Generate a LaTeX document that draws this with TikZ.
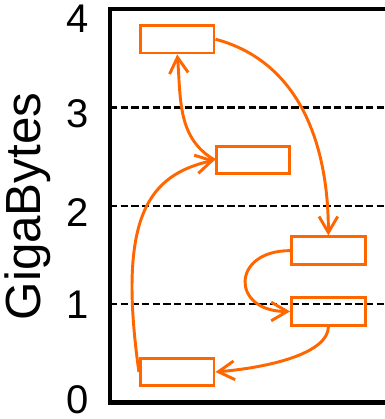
\documentclass[tikz,border=0pt]{standalone}
\usepackage{fontspec}
\setmainfont{Liberation Sans}
\usetikzlibrary{arrows.meta}

\definecolor{migorange}{RGB}{255,102,0}

\begin{document}
\begin{tikzpicture}[x=2.59cm,y=2.59cm,
  >={Straight Barb[length=12pt,width=14pt]},
  page/.style={draw=migorange,line width=2.2pt,inner sep=0pt,
    minimum width=1.94cm,minimum height=0.725cm},
  move/.style={migorange,line width=2.2pt,->},
  gbline/.style={line width=1.8pt,dash pattern=on 5.5pt off 2.5pt},
  ticklabel/.style={font=\fontsize{30}{32}\selectfont,inner sep=0pt}]

\useasboundingbox (-1.119,-0.170) rectangle (2.798,4.093);
\clip (-1.119,-0.170) rectangle (2.798,4.093);

% ============================================================
% axis frame and GB levels
% ============================================================

\foreach \g in {1,2,3}{
  \draw[gbline] (0,\g) -- (3,\g);
}
\draw[line width=3.4pt] (3.2,4) -- (0,4) -- (0,0) -- (3.2,0);

\foreach \v/\yy in {0/0.03,1/0.99,2/1.931,3/2.938,4/3.899}{
  \node[ticklabel] (tick\v) at (-0.326,\yy) {\v};
}

\node[rotate=90,inner sep=0pt,font=\fontsize{37}{40}\selectfont]
  (ylabel) at (-0.839,1.992) {GigaBytes};

% ============================================================
% memory blocks
% ============================================================

\node[page] (b1) at (0.684,3.694) {};
\node[page] (b2) at (1.455,2.465) {};
\node[page] (b3) at (2.222,1.543) {};
\node[page] (b4) at (2.222,0.924) {};
\node[page] (b5) at (0.684,0.308) {};

% ============================================================
% moves between blocks
% ============================================================

\draw[move] (b1.east) to[out=-15,in=90] (b3.north);
\draw[move] (b3.west) to[out=180,in=180,looseness=2.5] (b4.west);
\draw[move] (b4.south) to[out=-90,in=5,out looseness=0.53,in looseness=1.26] (b5.east);
\draw[move] (b5.west) to[out=98,in=193,out looseness=1.8,in looseness=0.76] (b2.west);
\draw[move] (b2.west) to[out=150,in=-85] (b1.south);

\end{tikzpicture}
\end{document}
